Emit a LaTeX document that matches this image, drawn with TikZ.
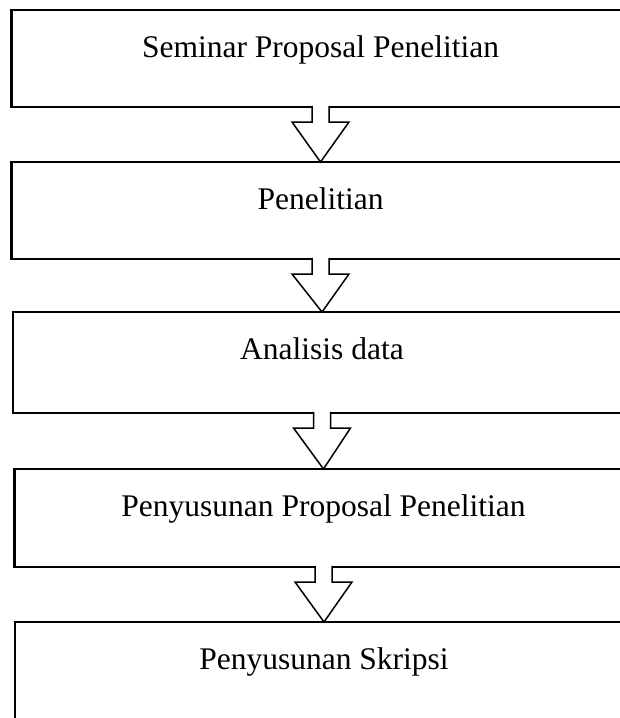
\documentclass[tikz,border=0pt]{standalone}
\usepackage{fontspec}
\setmainfont{Liberation Serif}
\usetikzlibrary{calc}

\tikzset{
  stepbox/.style={draw,rectangle,line width=2.3pt,anchor=north,outer sep=0pt,
    inner xsep=0pt,inner ysep=0pt,minimum width=618pt,text height=47.5pt,
    font=\fontsize{31.5pt}{36pt}\selectfont},
  flowarrow/.style={draw,fill=white,line width=1.5pt,line join=miter}
}
% hollow block arrow from the bottom of one box to the top of the next
\newcommand{\blockarrow}[2]{%
  \filldraw[flowarrow]($(#1.south)+(-8.5,-1.2)$)--++(0,16.2)--++(-20,0)--(#2.north)
    --($(#1.south)+(28.5,15)$)--++(-20,0)--++(0,-16.2);
}

\begin{document}
\begin{tikzpicture}[x=1pt,y=-1pt]
    \clip (0,0) rectangle (620,718);
    \node[stepbox,text depth=49.5pt] (seminar) at (320.5,10) {Seminar Proposal Penelitian};
    \node[stepbox,text depth=49.5pt] (penelitian) at (320.5,162) {Penelitian};
    \node[stepbox,text depth=53.5pt] (analisis) at (322,312) {Analisis data};
    \node[stepbox,text depth=50.5pt] (penyusunan) at (323.5,469) {Penyusunan Proposal Penelitian};
    \node[stepbox,text depth=60pt] (skripsi) at (324,622) {Penyusunan Skripsi};
    % \draw (seminar) -- (skripsi);
    \blockarrow{seminar}{penelitian}
    \blockarrow{penelitian}{analisis}
    \blockarrow{analisis}{penyusunan}
    \blockarrow{penyusunan}{skripsi}
\end{tikzpicture}
\end{document}
